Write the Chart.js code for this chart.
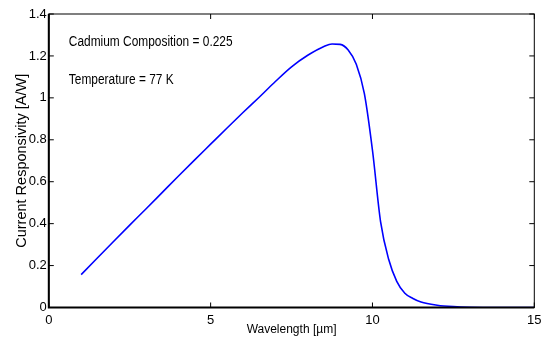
<!DOCTYPE html>
<html>
<head>
<meta charset="utf-8">
<script src="https://cdn.jsdelivr.net/npm/chart.js@4"></script>
<style>
  html, body { margin: 0; padding: 0; background: #fff; }
  #wrap { width: 547px; height: 341px; }
</style>
</head>
<body>
<div id="wrap"><canvas id="respChart"></canvas></div>
<script>
// wavelength in um, responsivity in A/W
var wavelength = [1, 1.5, 2, 2.5, 3, 3.5, 4, 4.5, 5, 5.5, 6, 6.5, 7, 7.5, 8, 8.5, 8.75, 9, 9.25, 9.5, 9.75, 10, 10.25, 10.5, 10.75, 11, 11.25, 11.5, 12, 12.5, 13, 14, 15];
var responsivity = [0.157, 0.236, 0.315, 0.393, 0.47, 0.548, 0.626, 0.703, 0.779, 0.855, 0.93, 1.003, 1.078, 1.148, 1.203, 1.245, 1.257, 1.255, 1.228, 1.16, 1.02, 0.75, 0.41, 0.23, 0.125, 0.068, 0.043, 0.026, 0.011, 0.004, 0.001, 0, 0];
var xTicks = [0, 5, 10, 15];
var yTicks = [0, 0.2, 0.4, 0.6, 0.8, 1, 1.2, 1.4];
var notes = [
    { text: "Cadmium Composition = 0.225", x: 0.62, y: 1.267 },
    { text: "Temperature = 77 K", x: 0.62, y: 1.085 }
];

var font = "'Liberation Sans Narrow', 'Liberation Sans', Arial, sans-serif";

var points = wavelength.map(function (w, i) {
    return { x: w, y: responsivity[i] };
});

function tickText(v) {
    return String(Math.round(v * 10) / 10);
}

// matlab style box with ticks pointing inwards, plus the text notes
var boxPlugin = {
    id: 'box',
    afterDraw: function (chart) {
        var ctx = chart.ctx;
        var a = chart.chartArea;
        var xs = chart.scales.x;
        var ys = chart.scales.y;
        ctx.save();
        ctx.strokeStyle = '#000';
        ctx.lineWidth = 1;
        ctx.strokeRect(a.left, a.top, a.right - a.left, a.bottom - a.top);
        ctx.lineWidth = 2;
        ctx.beginPath();
        ctx.moveTo(a.left, a.top);
        ctx.lineTo(a.left, a.bottom);
        ctx.lineTo(a.right, a.bottom);
        ctx.stroke();
        ctx.lineWidth = 1;
        ctx.beginPath();
        xTicks.forEach(function (t) {
            var px = xs.getPixelForValue(t);
            ctx.moveTo(px, a.bottom);
            ctx.lineTo(px, a.bottom - 5);
            ctx.moveTo(px, a.top);
            ctx.lineTo(px, a.top + 5);
        });
        yTicks.forEach(function (t) {
            var py = ys.getPixelForValue(t);
            ctx.moveTo(a.left, py);
            ctx.lineTo(a.left + 5, py);
            ctx.moveTo(a.right, py);
            ctx.lineTo(a.right - 5, py);
        });
        ctx.stroke();
        ctx.fillStyle = '#000';
        ctx.font = '14px ' + font;
        ctx.textBaseline = 'middle';
        ctx.textAlign = 'left';
        notes.forEach(function (n) {
            // squeeze a little, the original uses a narrow face
            ctx.save();
            ctx.translate(xs.getPixelForValue(n.x), ys.getPixelForValue(n.y));
            ctx.scale(0.85, 1);
            ctx.fillText(n.text, 0, 0);
            ctx.restore();
        });
        ctx.restore();
    }
};

new Chart(document.getElementById('respChart'), {
    type: 'line',
    data: {
        datasets: [{
            data: points,
            borderColor: '#0000ff',
            borderWidth: 1.6,
            pointRadius: 0,
            cubicInterpolationMode: 'monotone',
            fill: false
        }]
    },
    options: {
        responsive: true,
        maintainAspectRatio: false,
        animation: false,
        layout: { padding: { left: 0, top: 14, right: 12.7, bottom: 0 } },
        plugins: { legend: { display: false }, tooltip: { enabled: false } },
        scales: {
            x: {
                type: 'linear',
                min: 0,
                max: 15,
                afterBuildTicks: function (s) { s.ticks = xTicks.map(function (v) { return { value: v }; }); },
                afterFit: function (s) { s.height = 33.5; },
                grid: { display: false, drawTicks: false },
                border: { display: false },
                ticks: { color: '#000', padding: 5, font: { family: font, size: 13 }, callback: tickText },
                title: {
                    display: true,
                    text: 'Wavelength [\u00b5m]',
                    color: '#000',
                    font: { family: font, size: 12 },
                    padding: { top: 0, bottom: 4 }
                }
            },
            y: {
                min: 0,
                max: 1.4,
                afterBuildTicks: function (s) { s.ticks = yTicks.map(function (v) { return { value: v }; }); },
                afterFit: function (s) { s.width = 48.8; },
                grid: { display: false, drawTicks: false },
                border: { display: false },
                ticks: { color: '#000', padding: 2, font: { family: font, size: 13 }, callback: tickText },
                title: {
                    display: true,
                    text: 'Current Responsivity [A/W]',
                    color: '#000',
                    font: { family: font, size: 14.5 },
                    padding: { top: 13, bottom: 0 }
                }
            }
        }
    },
    plugins: [boxPlugin]
});
</script>
</body>
</html>
